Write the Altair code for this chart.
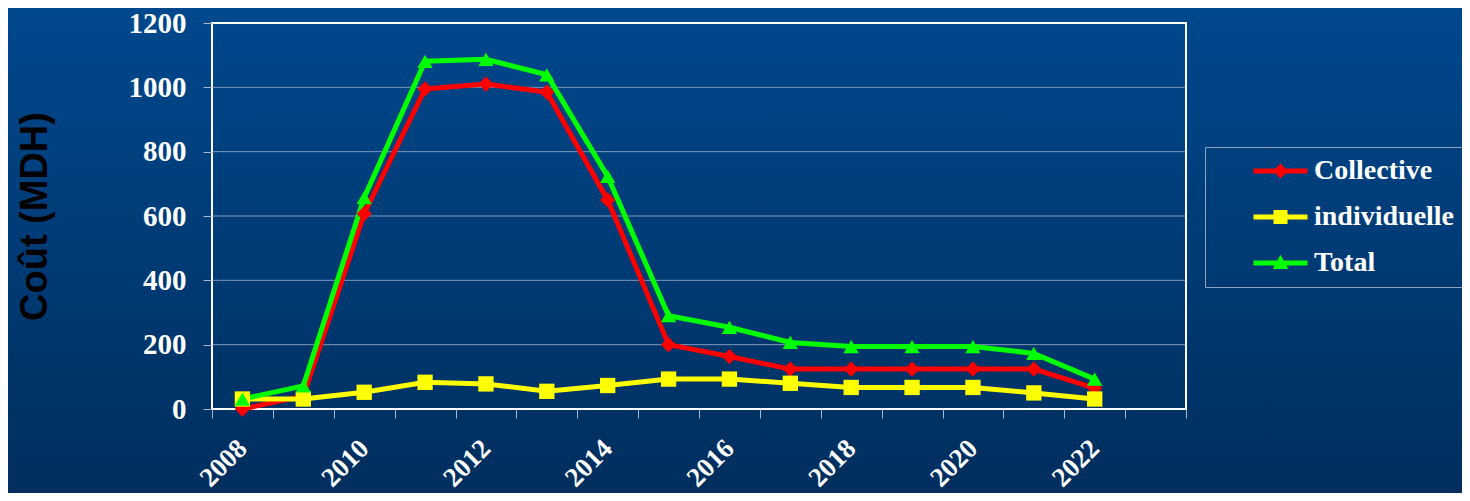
import altair as alt
import pandas as pd

# ---- data ----
years = ["2008", "2009", "2010", "2011", "2012", "2013", "2014", "2015",
         "2016", "2017", "2018", "2019", "2020", "2021", "2022"]
x_domain = years + ["2023"]
series_names = ["Collective", "individuelle", "Total"]
collective = [0, 40, 607, 995, 1010, 985, 650, 200, 163, 124, 124, 124, 124, 124, 65]
individuelle = [31, 31, 52, 83, 78, 55, 73, 93, 93, 80, 67, 67, 67, 50, 31]
total = [31, 72, 657, 1081, 1087, 1039, 723, 290, 254, 207, 194, 194, 194, 173, 93]
y_ticks = [0, 200, 400, 600, 800, 1000, 1200]
grid_values = [200, 400, 600, 800, 1000]

colors = ["#ff0000", "#ffff00", "#00ff00"]
shapes = ["diamond", "square", "triangle-up"]
legend_paths = [
    "M-2,-0.185L2,-0.185L2,0.185L-2,0.185Z M-0.56,0L0,-0.56L0.56,0L0,0.56Z",
    "M-2,-0.185L2,-0.185L2,0.185L-2,0.185Z M-0.52,-0.52L0.52,-0.52L0.52,0.52L-0.52,0.52Z",
    "M-2,-0.185L2,-0.185L2,0.185L-2,0.185Z M0,-0.62L0.58,0.45L-0.58,0.45Z",
]

rows = []
for name, vals in zip(series_names, [collective, individuelle, total]):
    for y, v in zip(years, vals):
        rows.append({"year": y, "value": v, "series": name})
df = pd.DataFrame(rows)
grid_df = pd.DataFrame({"value": grid_values})

W, H = 974, 386
PAD = {"left": 204, "top": 15, "right": 276, "bottom": 84}

X = alt.X(
    "year:N",
    scale=alt.Scale(type="band", domain=x_domain, paddingInner=0, paddingOuter=0),
    bandPosition=0.5,
    axis=alt.Axis(
        tickBand="extent",
        labelExpr="(toNumber(datum.value) % 2 == 0 && datum.value != '2023') ? datum.value : ''",
        labelAngle=-45,
        labelAlign="right",
        labelBaseline="middle",
        labelFont="Liberation Serif",
        labelFontWeight="bold",
        labelFontSize=27,
        labelColor="white",
        labelPadding=26,
        labelOverlap=False,
        tickSize=9,
        tickColor="#a7b6cc",
        tickWidth=1,
        domain=False,
        grid=False,
        title=None,
        zindex=1,
    ),
)
Y = alt.Y(
    "value:Q",
    scale=alt.Scale(domain=[0, 1200], nice=False),
    axis=alt.Axis(
        values=y_ticks,
        format="d",
        labelFont="Liberation Serif",
        labelFontWeight="bold",
        labelFontSize=29,
        labelColor="white",
        labelPadding=17,
        tickSize=9,
        tickColor="#a7b6cc",
        tickWidth=1,
        domain=False,
        grid=False,
        title="Coût (MDH)",
        titleFont="Liberation Sans",
        titleFontSize=38,
        titleFontWeight="bold",
        titleColor="#000000",
        titleAngle=270,
        titleAlign="center",
        titleBaseline="alphabetic",
        titleX=-166,
        titleY=H / 2,
        zindex=1,
    ),
)

bg = alt.Chart(alt.Data(values=[{"a": 1}])).mark_rect(
    fill=alt.Gradient(
        gradient="linear",
        stops=[alt.GradientStop(color="#00488d", offset=0),
               alt.GradientStop(color="#002e5e", offset=1)],
        x1=0, x2=0, y1=0, y2=1,
    ),
    strokeWidth=0,
).encode(
    x=alt.value(-PAD["left"]), x2=alt.value(W + PAD["right"]),
    y=alt.value(-PAD["top"]), y2=alt.value(H + PAD["bottom"]),
)

grid = alt.Chart(grid_df).mark_rule(color="#7f98bb", strokeWidth=1).encode(y=Y)

frame = alt.Chart(alt.Data(values=[{"a": 1}])).mark_rect(
    fillOpacity=0, stroke="white", strokeWidth=2
).encode(
    x=alt.value(0), x2=alt.value(W), y=alt.value(0), y2=alt.value(H),
)

layers = [bg, grid, frame]
base = alt.Chart(df)
for name, col, shp in zip(series_names, colors, shapes):
    sub = base.transform_filter(alt.datum.series == name)
    layers.append(sub.mark_line(color=col, strokeWidth=5).encode(x=X, y=Y))
for name, col, shp in zip(series_names, colors, shapes):
    sub = base.transform_filter(alt.datum.series == name)
    layers.append(sub.mark_point(shape=shp, filled=True, color=col, opacity=1,
                                 size=235).encode(x=X, y=Y))

leg = alt.Legend(
    orient="none", legendX=993, legendY=124, title=None,
    labelFont="Liberation Serif", labelFontWeight="bold", labelFontSize=28,
    labelColor="white", labelLimit=400,
    symbolSize=729, symbolStrokeWidth=0, symbolOffset=51.5, labelOffset=19.5,
    rowPadding=18, padding=10, strokeColor="#8fa3bf",
)
legend_layer = base.transform_filter(alt.datum.series == "__none__").mark_point(
    filled=True, opacity=1, strokeWidth=0
).encode(
    color=alt.Color("series:N", scale=alt.Scale(domain=series_names, range=colors), legend=leg),
    shape=alt.Shape("series:N", scale=alt.Scale(domain=series_names, range=legend_paths), legend=leg),
)
layers.append(legend_layer)

chart = alt.layer(*layers).properties(
    width=W, height=H, padding=PAD,
    autosize=alt.AutoSizeParams(type="none"),
    background="#003a75",
).configure_view(stroke=None)

chart.save("out.html", embed_options={"renderer": "svg", "actions": False})
